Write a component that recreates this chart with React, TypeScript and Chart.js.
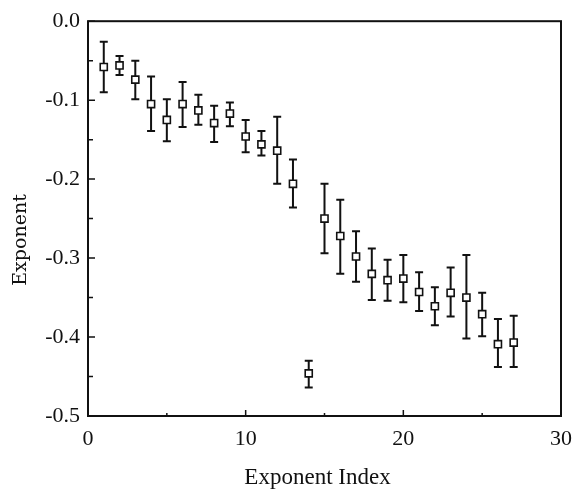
import React, { useEffect, useRef } from "react";
import { Chart, registerables } from "chart.js";

Chart.register(...registerables);

const exponentIndex = [1, 2, 3, 4, 5, 6, 7, 8, 9, 10, 11, 12, 13, 14, 15, 16, 17, 18, 19, 20, 21, 22, 23, 24, 25, 26, 27];
const exponentValue = [-0.058, -0.056, -0.074, -0.105, -0.125, -0.105, -0.113, -0.129, -0.117, -0.146, -0.156, -0.164, -0.206, -0.446, -0.25, -0.272, -0.298, -0.32, -0.328, -0.326, -0.343, -0.361, -0.344, -0.35, -0.371, -0.409, -0.407];
const errorTop = [-0.026, -0.044, -0.05, -0.07, -0.099, -0.077, -0.093, -0.107, -0.103, -0.125, -0.139, -0.121, -0.175, -0.43, -0.206, -0.226, -0.266, -0.288, -0.302, -0.296, -0.318, -0.337, -0.312, -0.296, -0.344, -0.377, -0.373];
const errorBottom = [-0.09, -0.068, -0.099, -0.139, -0.152, -0.134, -0.131, -0.153, -0.133, -0.166, -0.17, -0.206, -0.236, -0.464, -0.294, -0.32, -0.33, -0.353, -0.354, -0.356, -0.367, -0.385, -0.374, -0.402, -0.399, -0.438, -0.438];

const xTitle = "Exponent Index";
const yTitle = "Exponent";

const TICK_FONT = "Liberation Serif";

const framePlugin = {
  id: "frame",
  beforeDatasetsDraw(chart: any) {
    const ctx = chart.ctx;
    const xs = chart.scales.x;
    const ys = chart.scales.y;
    ctx.save();
    ctx.strokeStyle = "#111";
    ctx.lineWidth = 2;
    for (let i = 0; i < exponentIndex.length; i++) {
      const px = xs.getPixelForValue(exponentIndex[i]);
      const pt = ys.getPixelForValue(errorTop[i]);
      const pb = ys.getPixelForValue(errorBottom[i]);
      ctx.beginPath();
      ctx.moveTo(px, pt);
      ctx.lineTo(px, pb);
      ctx.moveTo(px - 4, pt);
      ctx.lineTo(px + 4, pt);
      ctx.moveTo(px - 4, pb);
      ctx.lineTo(px + 4, pb);
      ctx.stroke();
    }
    ctx.restore();
  },
  afterDraw(chart: any) {
    const ctx = chart.ctx;
    const { left, right, top, bottom } = chart.chartArea;
    const xs = chart.scales.x;
    const ys = chart.scales.y;
    ctx.save();
    ctx.strokeStyle = "#111";
    ctx.lineWidth = 2;
    ctx.strokeRect(left, top, right - left, bottom - top);
    ctx.lineWidth = 1.5;
    ctx.beginPath();
    ys.ticks.forEach((t: any) => {
      const py = ys.getPixelForValue(t.value);
      const major = Math.abs(Math.round(t.value * 10) - t.value * 10) < 1e-6;
      ctx.moveTo(left, py);
      ctx.lineTo(left + (major ? 7 : 5), py);
    });
    xs.ticks.forEach((t: any) => {
      const px = xs.getPixelForValue(t.value);
      const major = t.value % 10 === 0;
      ctx.moveTo(px, bottom);
      ctx.lineTo(px, bottom - (major ? 6 : 3));
    });
    ctx.stroke();
    ctx.fillStyle = "#111";
    ctx.textAlign = "center";
    ctx.textBaseline = "middle";
    ctx.font = `23px "${TICK_FONT}"`;
    ctx.fillText(xTitle, (left + right) / 2 - 7, 478);
    ctx.translate(21, 240);
    ctx.rotate(-Math.PI / 2);
    ctx.font = `19px "DejaVu Serif"`;
    ctx.fillText(yTitle, 0, 0);
    ctx.restore();
  },
};

export default function App() {
  const ref = useRef<HTMLCanvasElement>(null);
  useEffect(() => {
    if (!ref.current) return;
    const chart = new Chart(ref.current, {
      type: "scatter",
      data: {
        datasets: [
          {
            data: exponentIndex.map((x, i) => ({ x, y: exponentValue[i] })),
            pointStyle: "rect",
            pointRadius: 5,
            borderWidth: 1.6,
            borderColor: "#111",
            backgroundColor: "#fff",
          },
        ],
      },
      options: {
        animation: false,
        responsive: true,
        maintainAspectRatio: false,
        layout: { padding: { top: 18, right: 19, left: 0, bottom: 0 } },
        plugins: { legend: { display: false }, tooltip: { enabled: false } },
        scales: {
          x: {
            type: "linear",
            min: 0,
            max: 30,
            grid: { display: false, drawTicks: false },
            border: { display: false },
            ticks: {
              stepSize: 5,
              padding: 10,
              maxRotation: 0,
              color: "#111",
              font: { family: TICK_FONT, size: 22 },
              callback: (v: any) => (Number(v) % 10 === 0 ? String(v) : ""),
            },
            afterFit: (s: any) => {
              s.height = 83;
            },
          },
          y: {
            type: "linear",
            min: -0.5,
            max: 0,
            grid: { display: false, drawTicks: false },
            border: { display: false },
            ticks: {
              stepSize: 0.05,
              padding: 8,
              color: "#111",
              font: { family: TICK_FONT, size: 22 },
              callback: (v: any) => {
                const n = Number(v);
                return Math.abs(Math.round(n * 10) - n * 10) < 1e-6 ? (Math.round(n * 10) / 10).toFixed(1) : "";
              },
            },
            afterFit: (s: any) => {
              s.width = 88;
            },
          },
        },
      },
      plugins: [framePlugin],
    });
    return () => chart.destroy();
  }, []);
  return (
    <div style={{ position: "fixed", left: 0, top: 0, width: 582, height: 499, background: "#fff" }}>
      <canvas ref={ref} />
    </div>
  );
}
